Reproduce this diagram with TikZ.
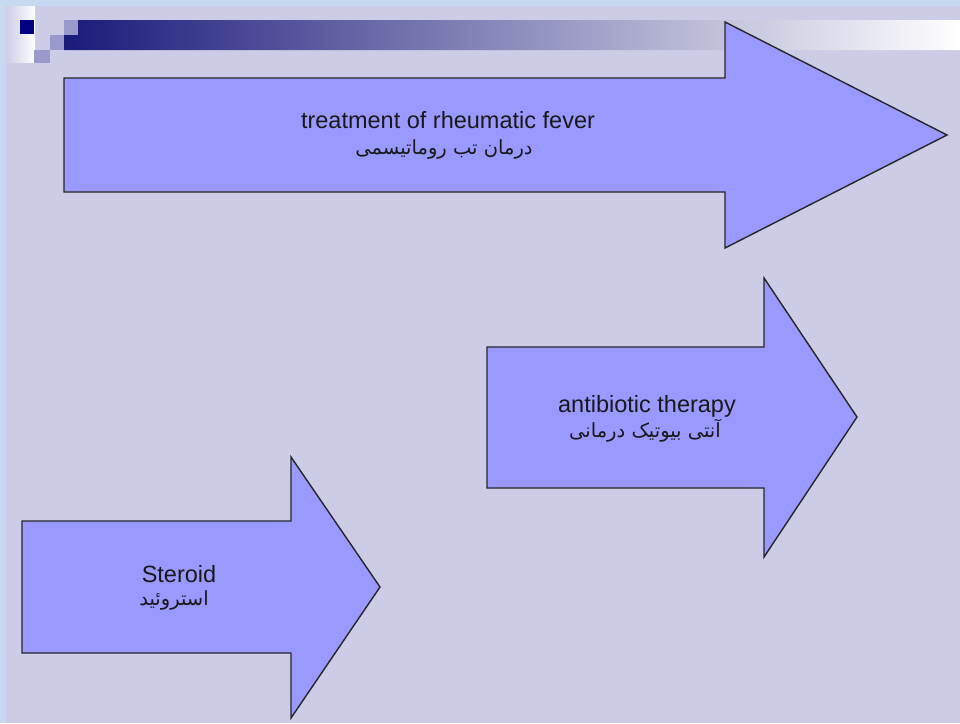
\documentclass[tikz,border=0pt]{standalone}
\usepackage{fontspec}
\setmainfont{Liberation Sans}
\newfontfamily\fafont[Script=Arabic]{DejaVu Sans}
\TeXXeTstate=1
\definecolor{frameblue}{RGB}{198,217,240}
\definecolor{slide}{RGB}{204,204,230}
\definecolor{arrowfill}{RGB}{153,153,255}
\definecolor{navyblock}{RGB}{0,0,128}
\definecolor{midblock}{RGB}{153,153,204}
\definecolor{bardark}{RGB}{26,26,122}
\begin{document}
\begin{tikzpicture}[x=1pt,y=-1pt,
  arrowshape/.style={fill=arrowfill,draw=black!85,line width=1.4pt,line join=miter},
  block/.style={fill=#1,draw=none},
  entext/.style={anchor=base,inner sep=0pt,text=black!90,font=\fontsize{23.5}{28}\selectfont},
  fatext/.style={anchor=base,inner sep=0pt,text=black!90,font=\fontsize{19.5}{24}\fafont}]
\useasboundingbox (0,0) rectangle (960,723);

% slide background and frame
\fill[frameblue] (0,0) rectangle (960,723);
\fill[slide] (6,6) rectangle (960,723);

% title decoration: fading strip, squares and gradient bar
\shade[left color=slide,right color=white] (6,6) rectangle (35,62);
\fill[block=navyblock] (20,20) rectangle (34,34);
\fill[block=midblock] (64,20) rectangle (78,35);
\fill[block=midblock] (50,35) rectangle (64,50);
\fill[block=midblock] (34,50) rectangle (50,63);
\shade[left color=bardark,right color=white]
  (78,20) -- (960,20) -- (960,50) -- (64,50) -- (64,35) -- (78,35) -- cycle;

% block arrows
\draw[arrowshape] (64,78) -- (725,78) -- (725,22) -- (947,135) -- (725,248)
  -- (725,192) -- (64,192) -- cycle;
\draw[arrowshape] (487,347) -- (764,347) -- (764,278) -- (857,417) -- (764,557)
  -- (764,488) -- (487,488) -- cycle;
\draw[arrowshape] (22,521) -- (291,521) -- (291,457) -- (380,587) -- (291,718)
  -- (291,653) -- (22,653) -- cycle;

% labels
\node[entext] (rfEn) at (448,128) {treatment of rheumatic fever};
\node[fatext] (rfFa) at (444,154) {\beginR درمان تب روماتیسمی\endR};
\node[entext] (abEn) at (647,412) {antibiotic therapy};
\node[fatext] (abFa) at (645,437) {\beginR آنتی بیوتیک درمانی\endR};
\node[entext] (stEn) at (179,582) {Steroid};
\node[fatext] (stFa) at (174,605) {\beginR استروئید\endR};
\end{tikzpicture}
\end{document}
